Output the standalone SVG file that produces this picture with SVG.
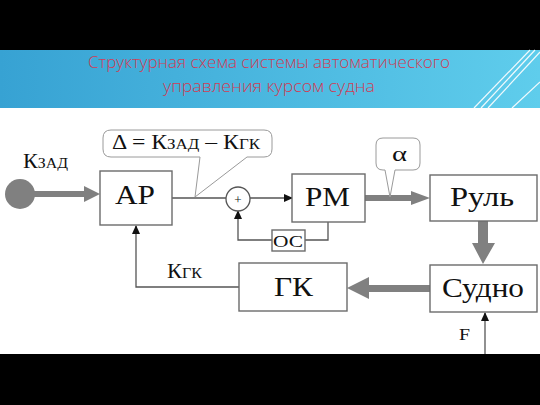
<svg xmlns="http://www.w3.org/2000/svg" width="540" height="405" viewBox="0 0 540 405">
<defs>
<linearGradient id="banner" x1="0" y1="0" x2="1" y2="0">
<stop offset="0" stop-color="#37a2d3"/>
<stop offset="1" stop-color="#5fcdec"/>
</linearGradient>
<marker id="ah" markerWidth="9" markerHeight="8" refX="8" refY="4" orient="auto" markerUnits="userSpaceOnUse">
<path d="M0,0 L9,4 L0,8 Z" fill="#111"/>
</marker>
<style>
.box{fill:#fff;stroke:#6b6b6b;stroke-width:1.4}
.lbl{fill:#111;text-anchor:middle;font-family:"Liberation Serif","Times New Roman",Tinos,"DejaVu Serif",serif}
.thin{fill:none;stroke:#555;stroke-width:1.3}
.thick{fill:#808080;stroke:none}
.call{fill:#fff;stroke:#9a9a9a;stroke-width:1}
.title{font-size:16px;fill:#d03c56;text-anchor:middle;font-family:"Open Sans","DejaVu Sans",sans-serif;font-weight:300}
</style>
</defs>
<rect x="0" y="0" width="540" height="405" fill="#fff"/>
<rect x="0" y="0" width="540" height="50" fill="#000"/>
<rect x="0" y="354" width="540" height="51" fill="#000"/>
<g id="banner-bg">
<rect x="0" y="50" width="540" height="58" fill="url(#banner)"/>
<g stroke="#fff" stroke-width="1.2" fill="none" opacity="0.9">
<line x1="530" y1="50" x2="474" y2="108"/>
<line x1="535" y1="50" x2="481" y2="108"/>
<line x1="540" y1="52" x2="488" y2="108"/>
<line x1="540" y1="82" x2="512" y2="108"/>
</g>
<text class="title" x="269" y="68" textLength="362" lengthAdjust="spacingAndGlyphs">Структурная схема системы автоматического</text>
<text class="title" x="269" y="92" textLength="212" lengthAdjust="spacingAndGlyphs">управления курсом судна</text>
</g>

<g id="connectors">
<circle cx="20" cy="194" r="15" fill="#808080"/>
<path class="thick" d="M20,191 H84 V186 L100,194 L84,202 V197 H20 Z"/>
<path class="thick" d="M365,195 H411 V191 L430,198 L411,205 V201 H365 Z"/>
<path class="thick" d="M478,221 H488 V243 H495 L483,264 L472,243 H478 Z"/>
<path class="thick" d="M430,285 V292 H369 V299 L347,288 L369,277 V285 Z"/>
<line class="thin" x1="172" y1="198" x2="226" y2="198"/>
<line class="thin" x1="250" y1="198" x2="292" y2="198" marker-end="url(#ah)"/>
<polyline class="thin" points="328,222 328,240 305,240"/>
<polyline class="thin" points="272,240 238,240 238,211" marker-end="url(#ah)"/>
<polyline class="thin" points="239,287 136,287 136,226" marker-end="url(#ah)"/>
<line class="thin" x1="485" y1="354" x2="485" y2="313" marker-end="url(#ah)"/>
</g>

<g id="label-kzad"><text class="lbl" x="23" y="168" font-size="21" font-variant="small-caps" style="text-anchor:start" textLength="45" lengthAdjust="spacingAndGlyphs">Кзад</text></g>
<g id="label-kgk"><text class="lbl" x="167" y="278" font-size="21" font-variant="small-caps" style="text-anchor:start" textLength="35" lengthAdjust="spacingAndGlyphs">Кгк</text></g>
<g id="label-F"><text class="lbl" x="464.5" y="340" font-size="17" textLength="11" lengthAdjust="spacingAndGlyphs">F</text></g>

<g id="callout-delta">
<path class="call" d="M111,130 H264 Q272,130 272,138 V149 Q272,157 264,157 H247 L195,197 L200,157 H111 Q103,157 103,149 V138 Q103,130 111,130 Z"/>
<text class="lbl" x="186" y="149" font-size="21" font-variant="small-caps" textLength="148" lengthAdjust="spacingAndGlyphs">Δ = Кзад – Кгк</text>
</g>
<g id="callout-alpha">
<path class="call" d="M383,138 H413 Q420,138 420,145 V163 Q420,170 413,170 H395 L390,197 L385,170 H383 Q376,170 376,163 V145 Q376,138 383,138 Z"/>
<text class="lbl" x="399.5" y="161" font-size="20" textLength="15" lengthAdjust="spacingAndGlyphs">α</text>
</g>

<g id="node-ar"><rect class="box" x="100" y="171" width="72" height="54"/><text class="lbl" x="135" y="204" font-size="27" textLength="40" lengthAdjust="spacingAndGlyphs">АР</text></g>
<g id="node-sum"><circle cx="238" cy="199" r="12" fill="#fff" stroke="#555" stroke-width="1.3"/><text class="lbl" x="238" y="204" font-size="13">+</text></g>
<g id="node-rm"><rect class="box" x="292" y="174" width="73" height="48"/><text class="lbl" x="327.5" y="206" font-size="28" textLength="45" lengthAdjust="spacingAndGlyphs">РМ</text></g>
<g id="node-os"><rect class="box" x="272" y="230" width="33" height="21"/><text class="lbl" x="288" y="247" font-size="17" textLength="30" lengthAdjust="spacingAndGlyphs">ОС</text></g>
<g id="node-rul"><rect class="box" x="430" y="175" width="107" height="46"/><text class="lbl" x="482" y="206" font-size="28" textLength="64" lengthAdjust="spacingAndGlyphs">Руль</text></g>
<g id="node-sudno"><rect class="box" x="430" y="265" width="107" height="47"/><text class="lbl" x="483" y="297" font-size="28" textLength="82" lengthAdjust="spacingAndGlyphs">Судно</text></g>
<g id="node-gk"><rect class="box" x="239" y="263" width="108" height="48"/><text class="lbl" x="293.5" y="296" font-size="28" textLength="39" lengthAdjust="spacingAndGlyphs">ГК</text></g>
</svg>
